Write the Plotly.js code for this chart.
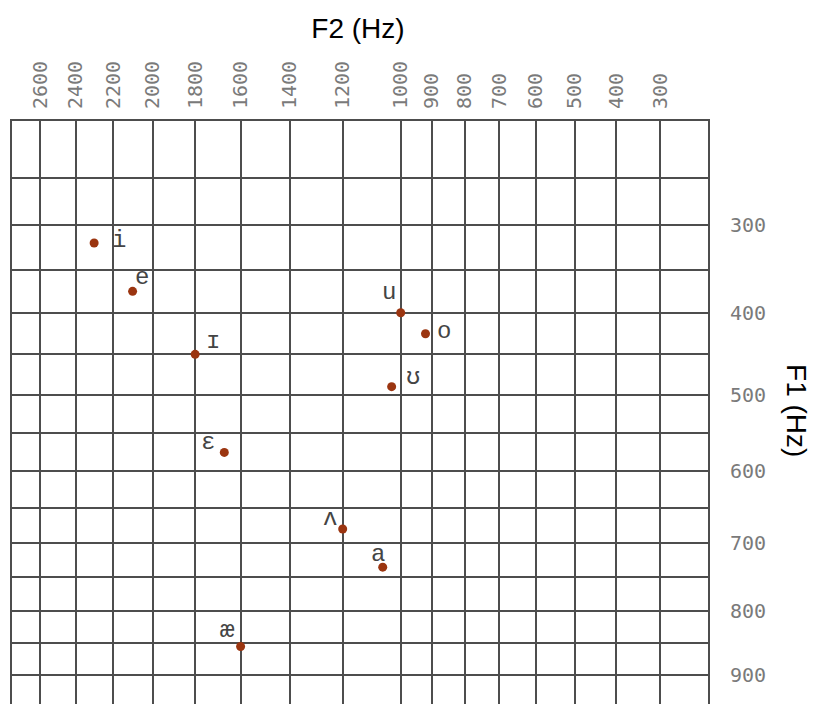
<!DOCTYPE html>
<html>
<head>
<meta charset="utf-8">
<script src="https://cdn.plot.ly/plotly-3.0.1.min.js"></script>
<style>
html, body { margin: 0; padding: 0; overflow: hidden; background: #fff; }
#chart { width: 814px; height: 716px; }
</style>
</head>
<body>
<div id="chart"></div>
<script>
// ---- data ----
const vowels = ['i', 'e', 'ɪ', 'u', 'o', 'ʊ', 'ɛ', 'ʌ', 'a', 'æ'];
const F1 = [320, 375, 450, 400, 425, 490, 575, 680, 735, 855];
const F2 = [2300, 2100, 1800, 1000, 920, 1030, 1670, 1200, 1060, 1600];
const f2Ticks = [2600, 2400, 2200, 2000, 1800, 1600, 1400, 1200, 1000, 900, 800, 700, 600, 500, 400, 300];
const f1Ticks = [300, 400, 500, 600, 700, 800, 900];
const f1Minor = [250, 350, 450, 550, 650, 750, 850];

// ---- label placement (style, pixel offsets from each point) ----
const labelShift = [[25, 2], [9, 14], [18, 13], [-12, 20], [19, 2], [21, 9], [-16, 10], [-13, 10], [-5, 13], [-13, 16]];

// ---- auditory-like scales ----
const sx = f => Math.log(f + 1070);
const sy = f => Math.log(f + 1000);

const gridCol = '#4d4d4d';
const tickFont = {family: 'DejaVu Sans Mono, monospace', size: 20, color: '#7a7a7a'};

const trace = {
  type: 'scatter',
  mode: 'markers',
  x: F2.map(sx),
  y: F1.map(sy),
  marker: {size: 9, color: '#9b3510'},
  hoverinfo: 'skip'
};

const annotations = vowels.map((v, i) => ({
  x: sx(F2[i]), y: sy(F1[i]), xref: 'x', yref: 'y',
  text: v, showarrow: false,
  xshift: labelShift[i][0], yshift: labelShift[i][1],
  font: {family: 'Liberation Mono, DejaVu Sans Mono, monospace', size: 24, color: '#444'}
}));

annotations.push({
  xref: 'paper', yref: 'paper', x: 1.128, y: 0.514,
  xanchor: 'center', yanchor: 'middle',
  text: 'F1 (Hz)', textangle: 90, showarrow: false,
  font: {family: 'Liberation Sans, Arial, sans-serif', size: 28, color: '#000'}
});

const layout = {
  width: 814, height: 716,
  margin: {l: 12, r: 106, t: 121, b: 0},
  paper_bgcolor: '#fff', plot_bgcolor: '#fff',
  showlegend: false,
  title: {
    text: 'F2 (Hz)', x: 358 / 814, xanchor: 'center', xref: 'container',
    y: 1 - 28 / 716, yanchor: 'middle', yref: 'container',
    font: {family: 'Liberation Sans, Arial, sans-serif', size: 28, color: '#000'}
  },
  xaxis: {
    side: 'top',
    range: [sx(2770), sx(200)],
    tickmode: 'array',
    tickvals: f2Ticks.map(sx),
    ticktext: f2Ticks.map(String),
    tickangle: -90,
    ticks: '',
    ticklabelstandoff: 6,
    tickfont: tickFont,
    showgrid: true, gridcolor: gridCol, gridwidth: 2,
    showline: true, mirror: true, linecolor: gridCol, linewidth: 2,
    zeroline: false, fixedrange: true
  },
  yaxis: {
    side: 'right',
    range: [sy(967), sy(191)],
    tickmode: 'array',
    tickvals: f1Ticks.map(sy),
    ticktext: f1Ticks.map(String),
    ticks: '',
    ticklabelstandoff: 16,
    tickfont: tickFont,
    showgrid: true, gridcolor: gridCol, gridwidth: 2,
    minor: {tickmode: 'array', tickvals: f1Minor.map(sy), showgrid: true, gridcolor: gridCol, gridwidth: 2, ticks: ''},
    showline: true, mirror: true, linecolor: gridCol, linewidth: 2,
    zeroline: false, fixedrange: true
  },
  annotations: annotations
};

Plotly.newPlot('chart', [trace], layout, {displayModeBar: false, staticPlot: true});
</script>
</body>
</html>
